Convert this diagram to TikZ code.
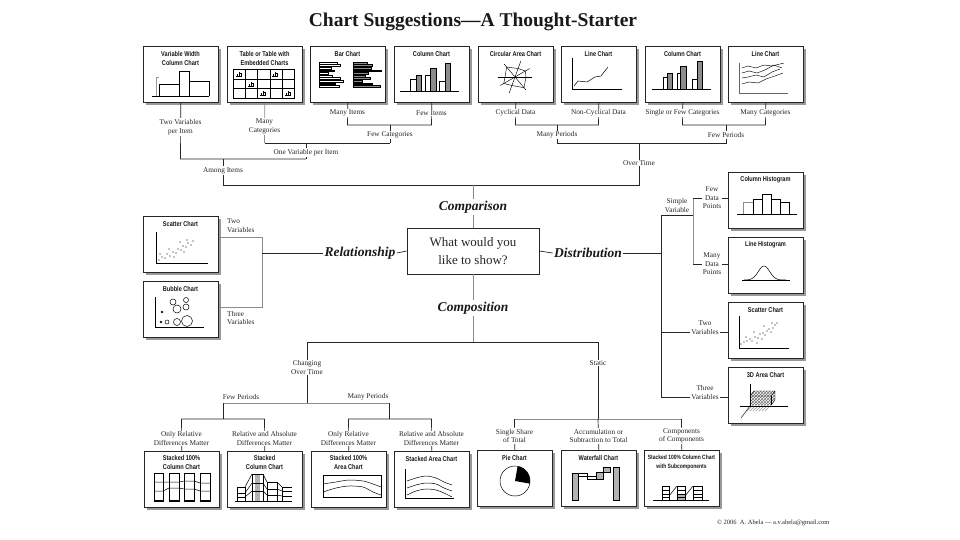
\documentclass[tikz,border=0pt]{standalone}
\usepackage{fontspec}
\setmainfont{Liberation Serif}
\newfontfamily\condfont[FakeStretch=0.8]{Liberation Sans}
\usetikzlibrary{shadows,patterns}
\begin{document}
\begin{tikzpicture}[x=1pt,y=-1pt,
  conn/.style={draw=black!85,line width=0.7pt},
  connl/.style={draw=black!45,line width=0.7pt},
  chartbox/.style={draw=black!85,line width=0.7pt,fill=white,minimum width=75pt,minimum height=56pt,anchor=north west,inner sep=0pt,drop shadow={shadow xshift=2.4pt,shadow yshift=-2.4pt,fill=black!40,opacity=1}},
  btitle/.style={font=\condfont\bfseries\fontsize{7}{9}\selectfont,align=center,inner sep=0pt,text=black!90},
  lab/.style={font=\fontsize{7.3}{8.6}\selectfont,fill=white,inner sep=1pt,align=center,text=black!85},
  cat/.style={font=\bfseries\itshape\fontsize{13.5}{15}\selectfont,fill=white,inner sep=1.5pt,text=black!90},
  minib/.pic={\draw[line width=.3pt] (-3,0) -- (3,0) (-2,0) -- (-2,-2) -- (-1,-2) (0,0) -- (0,-4) (2,0) -- (2,-3) -- (1,-3);}
]
\path[use as bounding box,fill=white] (0,0) rectangle (960,540);

% ---------- title ----------
\node[font=\bfseries\fontsize{19.5}{22}\selectfont,anchor=base,text=black!90] (title) at (473,27) {Chart Suggestions—A Thought-Starter};

% ---------- chart boxes ----------
\node[chartbox] (t1) at (143,46) {};
\node[chartbox] (t2) at (227,46) {};
\node[chartbox] (t3) at (310,46) {};
\node[chartbox] (t4) at (394,46) {};
\node[chartbox] (t5) at (478,46) {};
\node[chartbox] (t6) at (561,46) {};
\node[chartbox] (t7) at (645,46) {};
\node[chartbox] (t8) at (728,46) {};
\node[chartbox] (sc) at (143,216) {};
\node[chartbox] (bu) at (143,281) {};
\node[chartbox] (ch) at (728,172) {};
\node[chartbox] (lh) at (728,237) {};
\node[chartbox] (sr) at (728,302) {};
\node[chartbox] (td) at (728,367) {};
\node[chartbox] (b1) at (144,451) {};
\node[chartbox] (b2) at (227,451) {};
\node[chartbox] (b3) at (311,451) {};
\node[chartbox] (b4) at (394,451) {};
\node[chartbox] (b5) at (477,450) {};
\node[chartbox] (b6) at (561,450) {};
\node[chartbox] (b7) at (644,450) {};

% ---------- central question ----------
\node[draw=black!85,line width=0.7pt,minimum width=132pt,minimum height=46pt,font=\fontsize{13}{18}\selectfont,align=center,inner sep=0pt,text=black!85] (q) at (473,251) {What would you\\like to show?};

% ---------- top connectors ----------
\coordinate (a1) at (180.5,159);
\coordinate (a2) at (306,159);
\coordinate (am) at (223,159);
\coordinate (o1) at (264.5,143);
\coordinate (o2) at (390,143);
\coordinate (om) at (306,143);
\coordinate (f1) at (347.5,125);
\coordinate (f2) at (431.5,125);
\coordinate (fm) at (390,125);
\coordinate (c1) at (515.5,125);
\coordinate (c2) at (598.5,125);
\coordinate (cm) at (557,125);
\coordinate (p1) at (682.5,125);
\coordinate (p2) at (765.5,125);
\coordinate (pm) at (726,125);
\coordinate (m1) at (557,143);
\coordinate (m2) at (726,143);
\coordinate (mm) at (639,143);
\coordinate (g1) at (223,185);
\coordinate (g2) at (639,185);
\coordinate (gm) at (473,185);

\draw[conn] (t1.south) -- (a1) -- (a2);
\draw[connl] (t2.south) -- (o1);
\draw[conn] (o1) -- (o2);
\draw[conn] (t3.south) -- (f1) -- (f2) -- (t4.south);
\draw[conn] (fm) -- (o2);
\draw[conn] (om) -- (a2);
\draw[conn] (am) -- (g1) -- (g2) -- (mm);
\draw[conn] (t5.south) -- (c1) -- (c2) -- (t6.south);
\draw[conn] (t7.south) -- (p1) -- (p2) -- (t8.south);
\draw[conn] (cm) -- (m1) -- (m2) -- (pm);
\draw[connl] (gm) -- (q.north);

\node[lab] (l2v) at (180.5,127) {Two Variables\\per Item};
\node[lab] (lmc) at (264.5,126.5) {Many\\Categories};
\node[lab] (lmi) at (347.5,113) {Many Items};
\node[lab] (lfi) at (431.5,113) {Few Items};
\node[lab] (lfc) at (390,135) {Few Categories};
\node[lab] (l1v) at (306,152.5) {One Variable per Item};
\node[lab] (lai) at (223,170.5) {Among Items};
\node[lab] (lcd) at (515.5,113) {Cyclical Data};
\node[lab] (lnc) at (598.5,113) {Non-Cyclical Data};
\node[lab] (lsf) at (682.5,113) {Single or Few Categories};
\node[lab] (lmca) at (765.5,113) {Many Categories};
\node[lab] (lmp) at (557,135) {Many Periods};
\node[lab] (lfp) at (726,135) {Few Periods};
\node[lab] (lot) at (639,163) {Over Time};

% ---------- category labels ----------
\node[cat] (cmp) at (473,207) {Comparison};
\node[cat] (rel) at (360,253) {Relationship};
\node[cat] (dis) at (588,253) {Distribution};

% ---------- relationship ----------
\coordinate (rj) at (262,253);
\coordinate (rt) at (262,237);
\coordinate (rb) at (262,307);
\draw[connl] (sc.east |- rt) -- (rt) -- (rb) -- (bu.east |- rb);
\draw[conn] (rj) -- (rel.west);
\draw[conn] (rel.east) -- (q.west);
\node[lab,fill=none,align=left,anchor=north west] (rtv) at (226,218) {Two\\Variables};
\node[lab,fill=none,align=left,anchor=north west] (rth) at (226,310) {Three\\Variables};

% ---------- distribution ----------
\coordinate (dj) at (661,253);
\coordinate (dt) at (661,215);
\coordinate (db) at (661,397);
\coordinate (dv2) at (661,332);
\coordinate (sv) at (693,215);
\coordinate (svt) at (693,198);
\coordinate (svb) at (693,264);
\draw[conn] (q.east) -- (dis.west);
\draw[conn] (dis.east) -- (dj);
\draw[conn] (dt) -- (db);
\draw[conn] (dt) -- (sv);
\draw[connl] (svt) -- (svb);
\draw[conn] (svt) -- (ch.west |- svt);
\draw[conn] (svb) -- (lh.west |- svb);
\draw[conn] (dv2) -- (sr.west |- dv2);
\draw[conn] (db) -- (td.west |- db);
\node[lab] (lsv) at (677,205.5) {Simple\\Variable};
\node[lab] (lfd) at (712,198) {Few\\Data\\Points};
\node[lab] (lmd) at (712,264) {Many\\Data\\Points};
\node[lab] (ltw) at (705,327.5) {Two\\Variables};
\node[lab] (lth) at (705,392.5) {Three\\Variables};

% ---------- composition ----------
\coordinate (cj) at (473,342);
\coordinate (s1) at (307,342);
\coordinate (s2) at (598,342);
\coordinate (ch1) at (307,403);
\coordinate (fp) at (223,403);
\coordinate (mp) at (389,403);
\coordinate (fpb) at (223,419);
\coordinate (mpb) at (389,419);
\coordinate (k1) at (181.5,419);
\coordinate (k2) at (264.5,419);
\coordinate (k3) at (348.5,419);
\coordinate (k4) at (431.5,419);
\coordinate (st) at (598,419);
\coordinate (r1) at (514.5,419);
\coordinate (r2) at (681.5,419);
\draw[connl] (q.south) -- (cj);
\draw[conn] (s1) -- (s2);
\draw[conn] (s1) -- (ch1);
\draw[connl] (fp) -- (mp);
\draw[conn] (fp) -- (fpb);
\draw[conn] (mp) -- (mpb);
\draw[conn] (b1.north) -- (k1) -- (k2) -- (b2.north);
\draw[conn] (b3.north) -- (k3) -- (k4) -- (b4.north);
\draw[conn] (s2) -- (st);
\draw[connl] (r1) -- (r2);
\draw[conn] (r1) -- (b5.north);
\draw[conn] (st) -- (b6.north);
\draw[conn] (r2) -- (b7.north);
\node[cat] (cps) at (473,308) {Composition};
\node[lab] (lcot) at (307,367.5) {Changing\\Over Time};
\node[lab,fill=none] (lfpb) at (241,397) {Few Periods};
\node[lab,fill=none] (lmpb) at (368,397) {Many Periods};
\node[lab] (lor1) at (181.5,438.5) {Only Relative\\Differences Matter};
\node[lab] (lra1) at (264.5,438.5) {Relative and Absolute\\Differences Matter};
\node[lab] (lor2) at (348.5,438.5) {Only Relative\\Differences Matter};
\node[lab] (lra2) at (431.5,438.5) {Relative and Absolute\\Differences Matter};
\node[lab] (lsta) at (598,363) {Static};
\node[lab] (lsst) at (514.5,436) {Single Share\\of Total};
\node[lab] (lacc) at (598.5,436) {Accumulation or\\Subtraction to Total};
\node[lab] (lcoc) at (681.5,436) {Components\\of Components};

\node[font=\fontsize{6.5}{8}\selectfont,anchor=east,text=black!85] (copy) at (833,523) {© 2006\ \ A. Abela — a.v.abela@gmail.com};

% ================= icons =================
% t1 variable width column
\begin{scope}[shift={(143,46)},line width=.5pt]
\node[btitle] (t1l) at (37.5,12) {Variable Width\\Column Chart};
\draw[black!40] (13,50) -- (13,31) -- (16,31);
\draw (16,50) -- (16,38) -- (36,38) -- (36,50);
\draw (36,50) -- (36,25) -- (46,25) -- (46,50);
\draw (46,35) -- (66,35) -- (66,50);
\draw (9,50) -- (66,50);
\end{scope}
% t2 table
\begin{scope}[shift={(227,46)},line width=.5pt]
\node[btitle] (t2l) at (37.5,12) {Table or Table with\\Embedded Charts};
\draw (6,23) rectangle (67,52);
\foreach \yy in {33,42} \draw (6,\yy) -- (67,\yy);
\foreach \xx in {18,30,43,55} \draw (\xx,23) -- (\xx,52);
\foreach \px/\py in {12/30,48/30,24/40,36/49,61/49} \pic at (\px,\py) {minib};
\end{scope}
% t3 bar chart
\begin{scope}[shift={(310,46)},line width=.4pt]
\node[btitle] (t3l) at (37.5,8) {Bar Chart};
\foreach \i/\l in {0/27,1/30,2/21,3/24,4/18,5/22,6/30,7/33,8/25,9/29}
  \draw[fill=white] (9,{16+\i*2.6}) rectangle (\l,{17.8+\i*2.6});
\foreach \i/\l in {0/57,1/62,2/61,3/71,4/58,5/55,6/60,7/52,8/62,9/70}
  \draw[fill=black!45] (43,{16+\i*2.6}) rectangle (\l,{17.8+\i*2.6});
\end{scope}
% t4 column chart
\begin{scope}[shift={(394,46)},line width=.5pt]
\node[btitle] (t4l) at (37.5,8) {Column Chart};
\draw[fill=white] (16,45) rectangle (22,33);
\draw[fill=black!45] (22,45) rectangle (27,29);
\draw[fill=white] (31,45) rectangle (36,29);
\draw[fill=black!45] (36,45) rectangle (42,22);
\draw[fill=white] (45,45) rectangle (51,35);
\draw[fill=black!45] (51,45) rectangle (56,17);
\draw (6,45) -- (65,45);
\end{scope}
% t5 circular area
\begin{scope}[shift={(478,46)},line width=.45pt]
\node[btitle] (t5l) at (37.5,8) {Circular Area Chart};
\begin{scope}[shift={(37,31)}]
\foreach \a in {0,50,110,150} \draw (\a:17) -- (\a+180:17);
\draw (0:11) -- (50:14) -- (110:9) -- (150:13) -- (180:10) -- (230:13) -- (290:9) -- (330:12) -- cycle;
\end{scope}
\end{scope}
% t6 line chart
\begin{scope}[shift={(561,46)},line width=.5pt]
\node[btitle] (t6l) at (37.5,8) {Line Chart};
\draw (11,12) -- (11,43) -- (61,43);
\draw (13,40) -- (17,35) -- (26,36) -- (34,31) -- (40,30) -- (47,21);
\end{scope}
% t7 column chart
\begin{scope}[shift={(645,46)},line width=.5pt]
\node[btitle] (t7l) at (37.5,8) {Column Chart};
\draw[fill=white] (18,43) rectangle (22,31);
\draw[fill=black!45] (22,43) rectangle (27,27);
\draw[fill=white] (32,43) rectangle (35,27);
\draw[fill=black!45] (35,43) rectangle (41,20);
\draw[fill=white] (47,43) rectangle (52,33);
\draw[fill=black!45] (52,43) rectangle (57,15);
\draw (7,43) -- (66,43);
\end{scope}
% t8 multi line chart
\begin{scope}[shift={(728,46)},line width=.45pt]
\node[btitle] (t8l) at (37.5,8) {Line Chart};
\draw[black!60] (11,17) -- (11,47) -- (60,47);
\draw (14,22) -- (20,20) -- (28,22) -- (36,19) -- (44,20) -- (56,17);
\draw (14,27) -- (21,25) -- (29,27) -- (37,24) -- (46,19) -- (54,22);
\draw (14,32) -- (20,31) -- (28,29) -- (36,31) -- (44,26) -- (52,23);
\draw (14,38) -- (21,36) -- (30,37) -- (38,33) -- (47,30) -- (55,27);
\end{scope}
% scatter left
\begin{scope}[shift={(143,216)},line width=.5pt]
\node[btitle] (scl) at (37.5,8) {Scatter Chart};
\draw (13,16) -- (13,47) -- (65,47);
\foreach \px/\py in {16/44,19/41,22/42,24/38,27/40,30/36,33/37,35/33,38/34,40/30,43/31,45/27,48/29,26/33,37/26,44/24,17/38,31/41,50/25,41/36}
  \fill (\px,\py) circle[radius=0.6pt];
\end{scope}
% bubble
\begin{scope}[shift={(143,281)},line width=.5pt]
\node[btitle] (bul) at (37.5,8) {Bubble Chart};
\draw (12,16) -- (12,46) -- (61,46);
\draw (30,21) circle[radius=3pt];
\draw (43,19) circle[radius=2.5pt];
\draw (34,28) circle[radius=4pt];
\draw (43,26) circle[radius=3pt];
\draw (44,40) circle[radius=5.5pt];
\draw (34,41) circle[radius=3.5pt];
\draw (24,41) circle[radius=2pt];
\draw (19,31) circle[radius=1pt];
\draw (18,41) circle[radius=1pt];
\end{scope}
% column histogram
\begin{scope}[shift={(728,172)},line width=.5pt]
\node[btitle] (chl) at (37.5,8) {Column Histogram};
\draw[black!45] (15,42) rectangle (25,30);
\draw (25,42) rectangle (34,27);
\draw (34,42) rectangle (43,22);
\draw (43,42) rectangle (52,27);
\draw (52,42) rectangle (61,30);
\draw (9,42) -- (69,42);
\end{scope}
% line histogram
\begin{scope}[shift={(728,237)},line width=.5pt]
\node[btitle] (lhl) at (37.5,8) {Line Histogram};
\draw (14,43) -- (62,43);
\draw plot[domain=16:58,samples=50,smooth] (\x,{43-14*exp(0-((\x-36)/8)^2)});
\end{scope}
% scatter right
\begin{scope}[shift={(728,302)},line width=.5pt]
\node[btitle] (srl) at (37.5,8) {Scatter Chart};
\draw (11,14) -- (11,46) -- (61,46);
\foreach \px/\py in {13/42,16/40,19/39,22/37,24/39,27/35,30/36,32/32,35/31,37/33,39/29,41/27,43/30,45/26,47/23,26/30,36/24,44/21,18/35,29/41,49/21,34/37}
  \fill (\px,\py) circle[radius=0.6pt];
\end{scope}
% 3D area
\begin{scope}[shift={(728,367)},line width=.45pt]
\node[btitle] (tdl) at (37.5,8) {3D Area Chart};
\fill[pattern=crosshatch,pattern color=black!55] (26,24) -- (47,24) -- (47,33) -- (43,38) -- (22,38) -- (22,29) -- cycle;
\draw (26,24) -- (47,24) -- (43,29) -- (22,29) -- cycle;
\draw (43,29) -- (43,38);
\draw (47,24) -- (47,33) -- (43,38);
\fill[pattern=north east lines,pattern color=black!40] (22,38) -- (43,38) -- (38,44) -- (17,44) -- cycle;
\draw (22,17) -- (22,39);
\draw (12,39) -- (60,39);
\draw (22,39) -- (13,51);
\end{scope}
% b1 stacked 100% column
\begin{scope}[shift={(144,451)},line width=.5pt]
\node[btitle] (b1l) at (37.5,11.5) {Stacked 100\%\\Column Chart};
\foreach \a/\b in {10/19,25/35,40/50,56/66} \draw (\a,22) rectangle (\b,50);
\draw (10,31) -- (19,31) -- (25,31) -- (35,31) -- (40,30) -- (50,30) -- (56,32) -- (66,32);
\draw (10,40) -- (19,40) -- (25,37) -- (35,37) -- (40,38) -- (50,38) -- (56,40) -- (66,40);
\draw[line width=1.2pt] (10,50) -- (19,50) (25,50) -- (35,50) (40,50) -- (50,50) (56,50) -- (66,50);
\end{scope}
% b2 stacked column
\begin{scope}[shift={(227,451)},line width=.5pt]
\node[btitle] (b2l) at (37.5,11.5) {Stacked\\Column Chart};
\fill[black!30] (28,23) rectangle (33,50);
\draw (10,50) rectangle (18,36); \draw (10,42) -- (18,42); \draw (10,46) -- (18,46);
\draw (25,50) rectangle (36,23); \draw (25,32) -- (36,32); \draw (25,40) -- (36,40);
\draw (40,50) rectangle (50,31); \draw (40,38) -- (50,38); \draw (40,44) -- (50,44);
\draw (55,50) -- (55,36) -- (65,36); \draw (55,40) -- (65,40); \draw (55,45) -- (65,45);
\draw (18,36) -- (25,23); \draw (36,23) -- (40,31); \draw (50,31) -- (55,36);
\draw (18,42) -- (25,32); \draw (36,32) -- (40,38); \draw (50,38) -- (55,40);
\draw (18,46) -- (25,40); \draw (36,40) -- (40,44); \draw (50,44) -- (55,45);
\draw (8,50) -- (65,50);
\end{scope}
% b3 stacked 100% area
\begin{scope}[shift={(311,451)},line width=.5pt]
\node[btitle] (b3l) at (37.5,11.5) {Stacked 100\%\\Area Chart};
\draw (12,24) rectangle (70,46);
\draw plot[smooth] coordinates {(12,33) (25,31) (38,29) (52,30) (62,33) (70,36)};
\draw plot[smooth] coordinates {(12,41) (25,37) (38,35) (52,36) (62,41) (70,44)};
\end{scope}
% b4 stacked area
\begin{scope}[shift={(394,451)},line width=.5pt]
\node[btitle] (b4l) at (37.5,8) {Stacked Area Chart};
\draw (11,18) -- (11,47) -- (60,47);
\draw plot[smooth] coordinates {(13,30) (22,27) (32,25) (42,27) (50,31) (58,34)};
\draw plot[smooth] coordinates {(13,37) (22,34) (32,32) (42,33) (50,37) (58,40)};
\draw plot[smooth] coordinates {(13,44) (22,40) (32,38) (42,39) (50,42) (58,46)};
\end{scope}
% b5 pie
\begin{scope}[shift={(477,450)},line width=.5pt]
\node[btitle] (b5l) at (37.5,8) {Pie Chart};
\draw (38,31) circle[radius=15pt];
\fill (38,31) -- plot[domain=-80:10,samples=20] ({38+15*cos(\x)},{31+15*sin(\x)}) -- cycle;
\end{scope}
% b6 waterfall
\begin{scope}[shift={(561,450)},line width=.5pt]
\node[btitle] (b6l) at (37.5,8) {Waterfall Chart};
\draw[fill=black!30] (11,23) rectangle (17,50);
\draw[fill=white] (17,23) rectangle (26,26);
\draw[fill=white] (26,26) rectangle (35,29);
\draw[fill=black!30] (35,22) rectangle (42,29);
\draw[fill=black!30] (42,17) rectangle (49,22);
\draw[fill=black!30] (52,17) rectangle (58,50);
\end{scope}
% b7 stacked 100% with subcomponents
\begin{scope}[shift={(644,450)},line width=.5pt]
\node[btitle,font=\condfont\bfseries\fontsize{6.2}{9}\selectfont] (b7l) at (37.5,12) {Stacked 100\% Column Chart\\with Subcomponents};
\fill[black!30] (33,44) rectangle (41,50);
\foreach \a/\b in {18/25,33/41,49/58} {
  \draw (\a,36) rectangle (\b,50);
  \draw (\a,40) -- (\b,40);
  \draw (\a,44) -- (\b,44);
  \draw (\a,47) -- (\b,47);
}
\draw (25,46) -- (33,36);
\draw (41,46) -- (49,36);
\draw (9,50) -- (65,50);
\end{scope}
\end{tikzpicture}
\end{document}
